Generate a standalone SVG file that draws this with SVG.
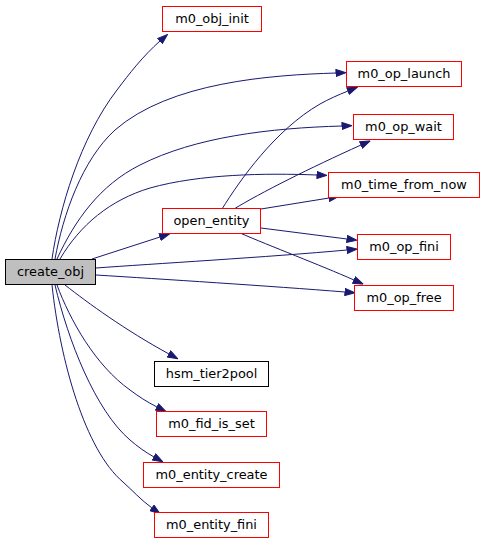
<svg xmlns="http://www.w3.org/2000/svg" width="485" height="544" viewBox="0 0 485 544">
<style>
.n rect{fill:#ffffff;stroke:#ff0000;stroke-width:1}
.n.k rect{stroke:#000000}
.n.cur rect{fill:#bfbfbf;stroke:#000000}
.n text{font-family:"DejaVu Sans","Liberation Sans",sans-serif;font-size:12.9px;fill:#000000;text-anchor:middle}
.e path{fill:none;stroke:#191970;stroke-width:1;marker-end:url(#ah)}
</style>
<defs>
<marker id="ah" markerUnits="userSpaceOnUse" viewBox="0 0 11 8" refX="0.5" refY="4" markerWidth="11" markerHeight="8" orient="auto">
<polygon points="0.5,0.5 10.5,4 0.5,7.5" fill="#191970" stroke="#191970" stroke-width="1"/>
</marker>
</defs>
<rect width="485" height="544" fill="#ffffff"/>
<g id="edges" class="e">
<path d="M52,259 C59,210 80,138 117,90 C129,74 143,56 160,41"/>
<path d="M55,259 C63,215 82,160 115,130 C170,82 271,75 336,73"/>
<path d="M57,259 C75,220 100,185 140,165 C195,137 270,128 342,126"/>
<path d="M60,259 C80,225 110,200 150,188 C200,174 265,173 317,175"/>
<path d="M92,259 L160,237"/>
<path d="M96,268 C150,264 270,257 347,250"/>
<path d="M96,275 C160,279 270,286 345,292"/>
<path d="M65,285 C88,303 125,330 169,354"/>
<path d="M57,285 C70,320 95,365 130,390 C138,396 147,402 157,407"/>
<path d="M55,285 C68,340 95,410 130,440 C137,446 145,452 154,457"/>
<path d="M52,285 C60,360 85,450 123,482 C132,490 141,500 152,508"/>
<path d="M222,209 C240,180 275,130 320,104 C329,99 338,95 348,91"/>
<path d="M234,209 C260,193 310,168 361,145"/>
<path d="M261,209 L329,198"/>
<path d="M261,228 L347,239"/>
<path d="M240,233 C270,246 320,265 354,280"/>
</g>
<g id="create_obj" class="n cur"><rect x="5.5" y="259.5" width="90" height="25"/><text x="50.5" y="276">create_obj</text></g>
<g id="m0_obj_init" class="n"><rect x="162.5" y="6.5" width="99" height="25"/><text x="212" y="23">m0_obj_init</text></g>
<g id="m0_op_launch" class="n"><rect x="346.5" y="61.5" width="115" height="25"/><text x="404" y="78">m0_op_launch</text></g>
<g id="m0_op_wait" class="n"><rect x="353.5" y="114.5" width="100" height="25"/><text x="403.5" y="131">m0_op_wait</text></g>
<g id="m0_time_from_now" class="n"><rect x="328.5" y="172.5" width="151" height="25"/><text x="404" y="189">m0_time_from_now</text></g>
<g id="open_entity" class="n"><rect x="162.5" y="208.5" width="98" height="25"/><text x="211.5" y="225">open_entity</text></g>
<g id="m0_op_fini" class="n"><rect x="357.5" y="234.5" width="93" height="25"/><text x="404" y="251">m0_op_fini</text></g>
<g id="m0_op_free" class="n"><rect x="354.5" y="285.5" width="99" height="25"/><text x="404" y="302">m0_op_free</text></g>
<g id="hsm_tier2pool" class="n k"><rect x="154.5" y="361.5" width="114" height="25"/><text x="211.5" y="378">hsm_tier2pool</text></g>
<g id="m0_fid_is_set" class="n"><rect x="156.5" y="411.5" width="110" height="25"/><text x="211.5" y="428">m0_fid_is_set</text></g>
<g id="m0_entity_create" class="n"><rect x="143.5" y="462.5" width="136" height="25"/><text x="211.5" y="479">m0_entity_create</text></g>
<g id="m0_entity_fini" class="n"><rect x="154.5" y="512.5" width="114" height="25"/><text x="211.5" y="529">m0_entity_fini</text></g>
</svg>
